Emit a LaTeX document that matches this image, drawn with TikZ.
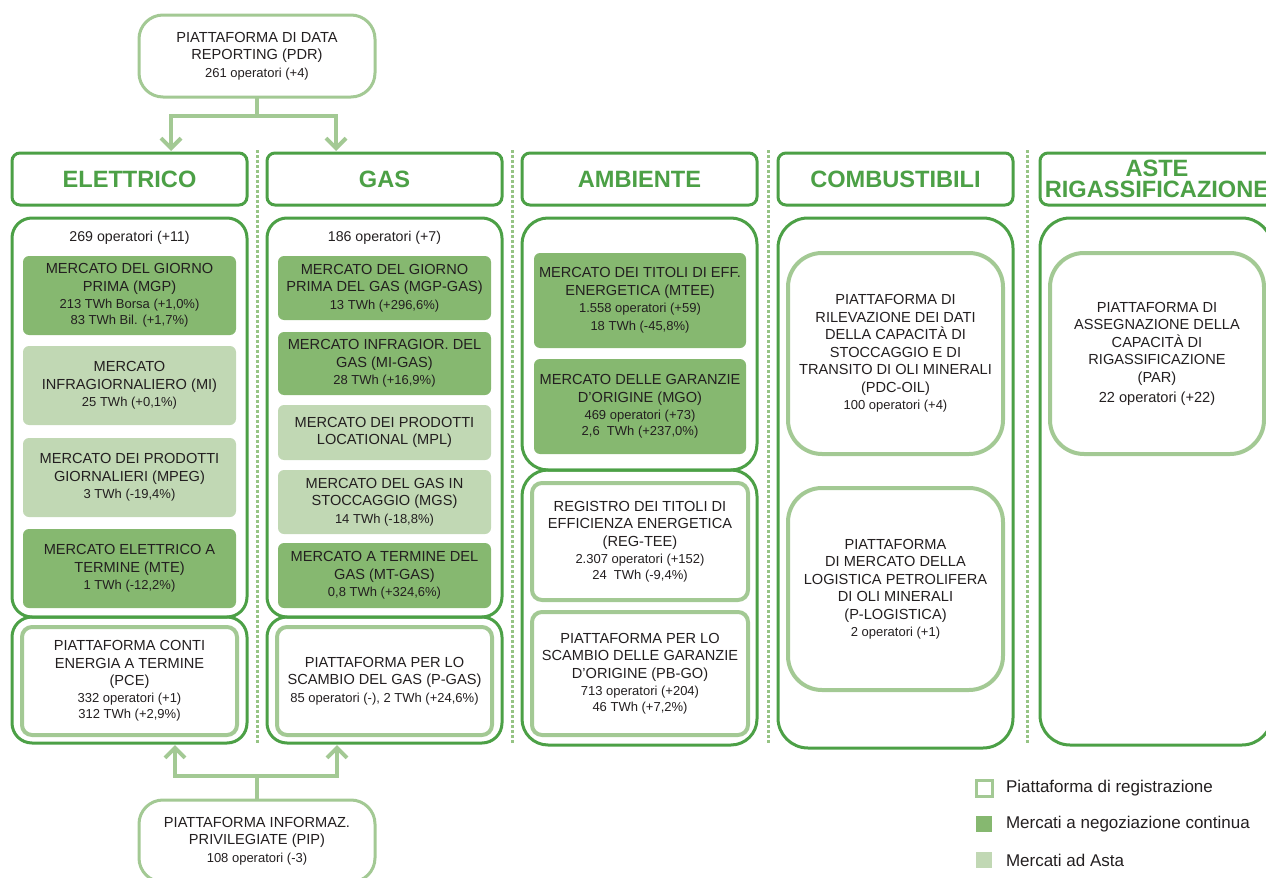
\documentclass[tikz,border=0pt]{standalone}
\usepackage{fontspec}
\setmainfont{Liberation Sans}
\usetikzlibrary{arrows.meta}
\definecolor{dg}{RGB}{76,160,70}
\definecolor{lg}{RGB}{163,201,148}
\definecolor{df}{RGB}{134,184,112}
\definecolor{lf}{RGB}{193,216,180}
\definecolor{sepc}{RGB}{150,196,132}
\definecolor{tx}{RGB}{35,31,32}
\newcommand\mytitle{\fontsize{7.3}{8.75}\selectfont}
\newcommand\mysmall{\fontsize{6.5}{8}\selectfont}
\newcommand\bx[2]{{\mytitle #1\par}\vspace{0.6pt}{\mysmall #2\par}}
\begin{document}
\begin{tikzpicture}[x=0.5pt,y=-0.5pt,
 every node/.style={inner sep=0pt, outer sep=0pt, text=tx, align=flush center},
 sz/.code 2 args={\pgfmathsetlengthmacro\mytw{#1*0.5}\pgfmathsetlengthmacro\myth{#2*0.5}%
   \edef\mytmp{\noexpand\tikzset{minimum width=\mytw,text width=\mytw,minimum height=\myth}}\mytmp},
 hdr/.style={draw=dg, line width=1.5pt, rounded corners=4pt, fill=white, text=dg,
   font=\fontsize{11.8}{10.5}\selectfont\bfseries},
 grpbox/.style={draw=dg, line width=1.5pt, rounded corners=10pt},
 bigbox/.style={draw=dg, line width=1.5pt, rounded corners=15pt},
 dmk/.style={fill=df, rounded corners=3pt},
 lmk/.style={fill=lf, rounded corners=3pt},
 plat/.style={draw=lg, line width=2pt, rounded corners=5pt, fill=white},
 bigplat/.style={draw=lg, line width=2pt, rounded corners=17pt, fill=white},
 infobox/.style={draw=lg, line width=1.5pt, rounded corners=12pt, fill=white},
 cline/.style={draw=lg, line width=2pt},
 conn/.style={cline, -{Straight Barb[length=5pt,width=10pt]}, shorten >=1pt},
 sepl/.style={draw=sepc, line width=1.5pt, dash pattern=on 1.5pt off 1pt},
 cnt/.style={font=\fontsize{7.1}{8.5}\selectfont},
 legt/.style={anchor=west, font=\fontsize{8.5}{10}\selectfont},
 legbox/.style={sz={16}{16}}
]
\useasboundingbox (0,0) rectangle (1266,878);
\clip (0,0) rectangle (1266,878);

% separators
\draw[sepl] (257,150) -- (257,745);
\draw[sepl] (512,150) -- (512,745);
\draw[sepl] (768,150) -- (768,745);
\draw[sepl] (1027,150) -- (1027,745);

% top platform
\node[infobox, sz={236}{82}] (pdr) at (257,56) {\bx{PIATTAFORMA DI DATA\\REPORTING (PDR)}{261 operatori (+4)}};

% headers
\node[hdr, sz={235}{52}] (hel) at (129.5,179) {ELETTRICO};
\node[hdr, sz={235}{52}] (hgas) at (384.5,179) {GAS};
\node[hdr, sz={235}{52}] (hamb) at (639.5,179) {AMBIENTE};
\node[hdr, sz={235}{52}] (hcomb) at (895.5,179) {COMBUSTIBILI};
\node[hdr, sz={234}{52}] (haste) at (1157,179) {ASTE\\RIGASSIFICAZIONE};

% ELETTRICO
\node[grpbox, sz={235}{399}] (elg) at (129.5,417.5) {};
\node[cnt] (elop) at (129.5,238) {269 operatori (+11)};
\node[dmk, sz={213}{79}] (mgp) at (129.5,295.5) {\bx{MERCATO DEL GIORNO\\PRIMA (MGP)}{213 TWh Borsa (+1,0\%)\\83 TWh Bil. (+1,7\%)}};
\node[lmk, sz={213}{79}] (mi) at (129.5,385.5) {\bx{MERCATO\\INFRAGIORNALIERO (MI)}{25 TWh (+0,1\%)}};
\node[lmk, sz={213}{79}] (mpeg) at (129.5,477.5) {\bx{MERCATO DEI PRODOTTI\\GIORNALIERI (MPEG)}{3 TWh (-19,4\%)}};
\node[dmk, sz={213}{79}] (mte) at (129.5,568.5) {\bx{MERCATO ELETTRICO A\\TERMINE (MTE)}{1 TWh (-12,2\%)}};
\node[grpbox, sz={235}{126}] (elb) at (129.5,680) {};
\node[plat, sz={215}{108}] (pce) at (129.5,681) {\bx{PIATTAFORMA CONTI\\ENERGIA A TERMINE\\(PCE)}{332 operatori (+1)\\312 TWh (+2,9\%)}};

% GAS
\node[grpbox, sz={235}{399}] (gsg) at (384.5,417.5) {};
\node[cnt] (gsop) at (384.5,238) {186 operatori (+7)};
\node[dmk, sz={213}{64}] (mgpg) at (384.5,288) {\bx{MERCATO DEL GIORNO\\PRIMA DEL GAS (MGP-GAS)}{13 TWh (+296,6\%)}};
\node[dmk, sz={213}{63}] (mig) at (384.5,363.5) {\bx{MERCATO INFRAGIOR. DEL\\GAS (MI-GAS)}{28 TWh (+16,9\%)}};
\node[lmk, sz={213}{55}] (mpl) at (384.5,432.5) {{\mytitle MERCATO DEI PRODOTTI\\LOCATIONAL (MPL)\par}};
\node[lmk, sz={213}{64}] (mgs) at (384.5,502) {\bx{MERCATO DEL GAS IN\\STOCCAGGIO (MGS)}{14 TWh (-18,8\%)}};
\node[dmk, sz={213}{65}] (mtg) at (384.5,575.5) {\bx{MERCATO A TERMINE DEL\\GAS (MT-GAS)}{0,8 TWh (+324,6\%)}};
\node[grpbox, sz={235}{126}] (gsb) at (384.5,680) {};
\node[plat, sz={215}{108}] (pgas) at (384.5,681) {\bx{PIATTAFORMA PER LO\\SCAMBIO DEL GAS (P-GAS)}{85 operatori (-), 2 TWh (+24,6\%)}};

% AMBIENTE
\node[grpbox, sz={235}{252}, rounded corners=13pt] (amt) at (639.5,344) {};
\node[dmk, sz={212}{95}] (mtee) at (640,300.5) {\bx{MERCATO DEI TITOLI DI EFF.\\ENERGETICA (MTEE)}{1.558 operatori (+59)\\[1pt]18 TWh (-45,8\%)}};
\node[dmk, sz={212}{95}] (mgo) at (640,406.5) {\bx{MERCATO DELLE GARANZIE\\D’ORIGINE (MGO)}{469 operatori (+73)\\2,6\ \ TWh (+237,0\%)}};
\node[grpbox, sz={235}{275}, rounded corners=13pt] (amb) at (639.5,607.5) {};
\node[plat, sz={216}{117}] (regtee) at (640,541.5) {\bx{REGISTRO DEI TITOLI DI\\EFFICIENZA ENERGETICA\\(REG-TEE)}{2.307 operatori (+152)\\24\ \ TWh (-9,4\%)}};
\node[plat, sz={216}{123}] (pbgo) at (640,673.5) {\bx{PIATTAFORMA PER LO\\SCAMBIO DELLE GARANZIE\\D’ORIGINE (PB-GO)}{713 operatori (+204)\\46 TWh (+7,2\%)}};

% COMBUSTIBILI
\node[bigbox, sz={235}{530}] (cmb) at (895.5,483) {};
\node[bigplat, sz={215}{201}] (pdc) at (895.5,353.5) {\bx{PIATTAFORMA DI\\RILEVAZIONE DEI DATI\\DELLA CAPACITÀ DI\\STOCCAGGIO E DI\\TRANSITO DI OLI MINERALI\\(PDC-OIL)}{100 operatori (+4)}};
\node[bigplat, sz={215}{202}] (plog) at (895.5,589) {\bx{PIATTAFORMA\\DI MERCATO DELLA\\LOGISTICA PETROLIFERA\\DI OLI MINERALI\\(P-LOGISTICA)}{2 operatori (+1)}};

% ASTE RIGASSIFICAZIONE
\node[bigbox, sz={232}{527}] (ast) at (1156,481.5) {};
\node[bigplat, sz={214}{201}] (par) at (1157,353.5) {{\mytitle PIATTAFORMA DI\\ASSEGNAZIONE DELLA\\CAPACITÀ DI\\RIGASSIFICAZIONE\\(PAR)\par}\vspace{1.2pt}{\mytitle 22 operatori (+22)\par}};

% bottom platform
\node[infobox, sz={236}{82}] (pip) at (257,841) {\bx{PIATTAFORMA INFORMAZ.\\PRIVILEGIATE (PIP)}{108 operatori (-3)}};

% connectors
\coordinate (jt) at (257,116);
\draw[cline] (pdr.south) -- (jt);
\draw[conn] (jt) -| ([xshift=20.75pt]hel.north);
\draw[conn] (jt) -| ([xshift=-24.25pt]hgas.north);
\coordinate (jb) at (257,776);
\draw[cline] (pip.north) -- (jb);
\draw[conn] (jb) -| ([xshift=22.75pt]elb.south);
\draw[conn] (jb) -| ([xshift=-23.75pt]gsb.south);

% legend
\node[legbox, draw=lg, line width=1.5pt, fill=white] (lb1) at (984,788) {};
\node[legbox, fill=df] (lb2) at (984,824) {};
\node[legbox, fill=lf] (lb3) at (984,860) {};
\node[legt] (lt1) at (1006,788) {Piattaforma di registrazione};
\node[legt] (lt2) at (1006,824) {Mercati a negoziazione continua};
\node[legt] (lt3) at (1006,860) {Mercati ad Asta};
\end{tikzpicture}
\end{document}
